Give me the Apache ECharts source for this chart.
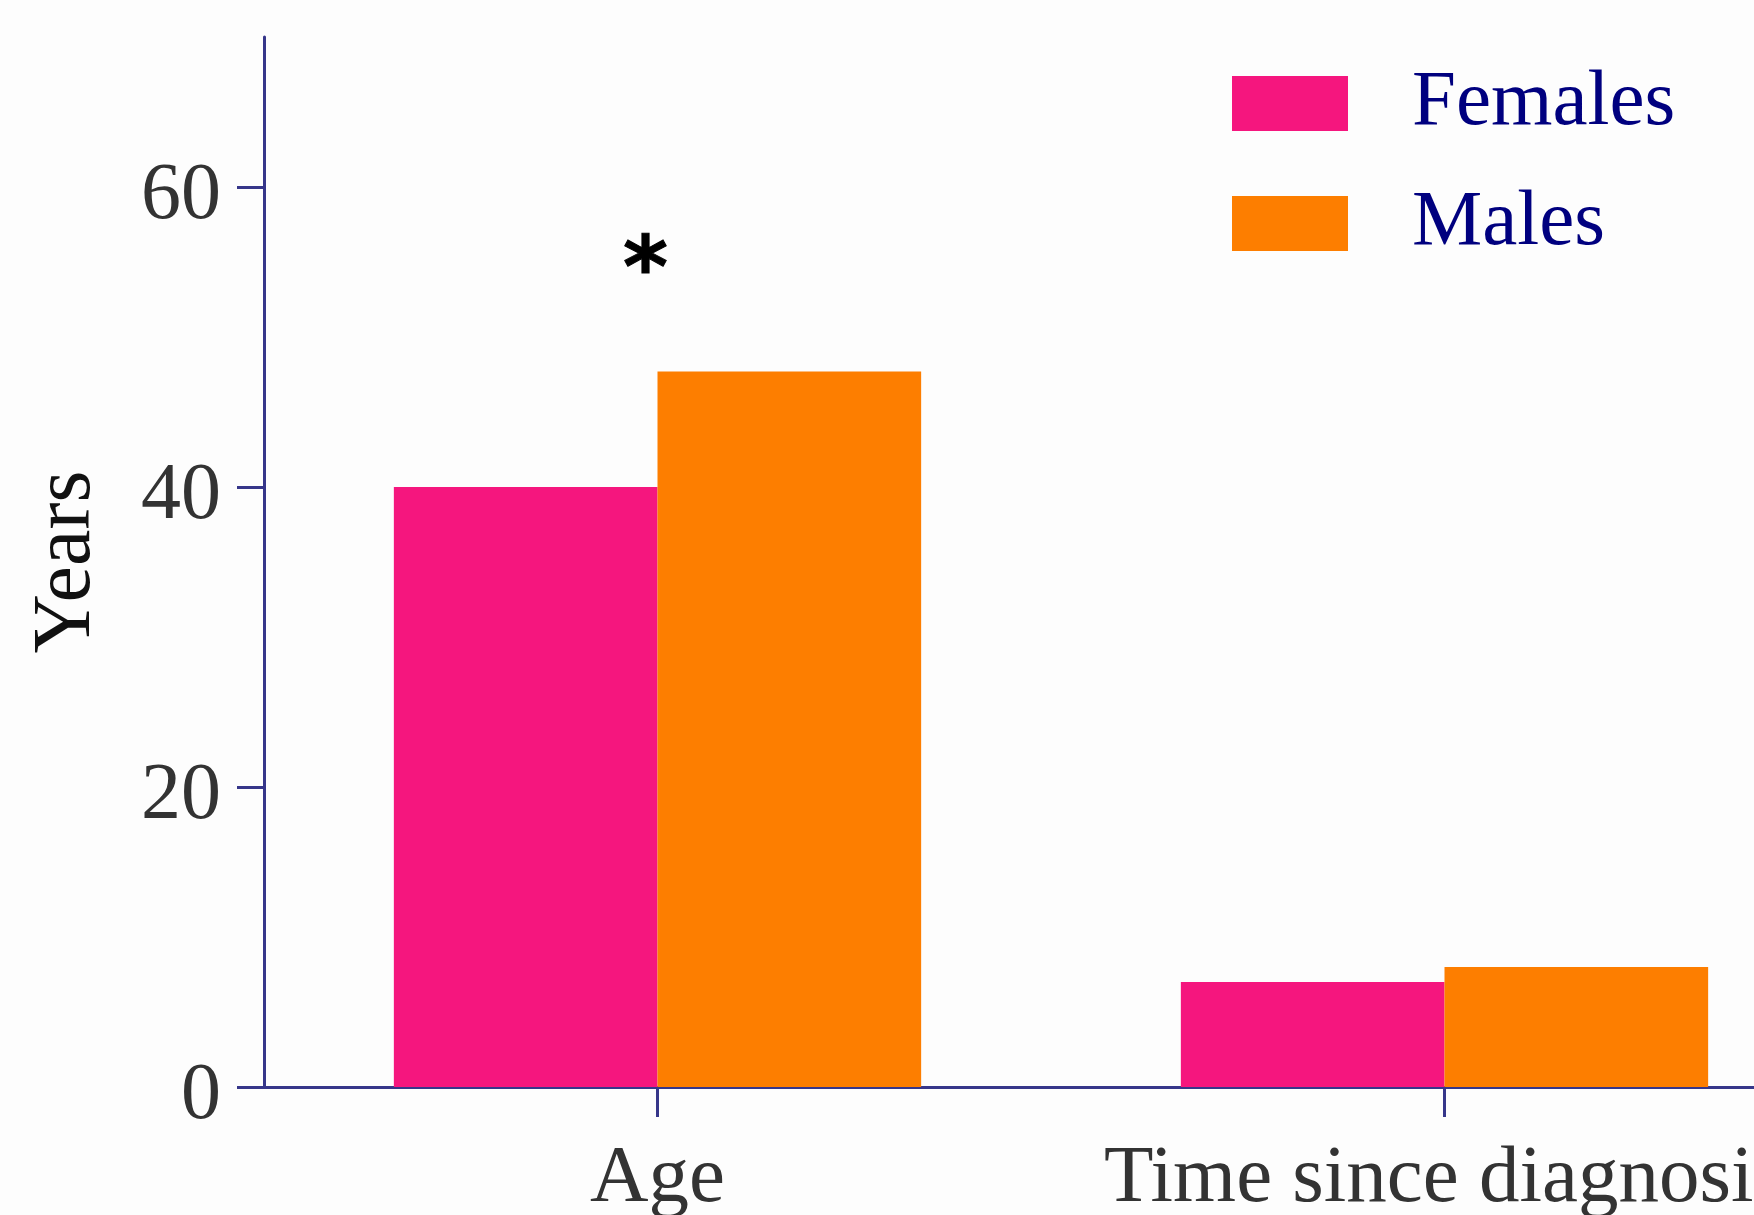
<!DOCTYPE html>
<html>
<head>
<meta charset="utf-8">
<script src="https://cdn.jsdelivr.net/npm/echarts@6/dist/echarts.min.js"></script>
<style>
  html, body { margin: 0; padding: 0; background: #fdfdfd; }
  #chart { width: 1754px; height: 1215px; }
</style>
</head>
<body>
<div id="chart"></div>
<script>
// Mean age and disease duration by sex
const categories = ['Age', 'Time since diagnosis'];
const femalesYears = [40.0, 7.0];
const malesYears = [47.7, 8.0];
const yTicks = [0, 20, 40, 60];
const seriesNames = ['Females', 'Males'];
// significance marker above the Age pair
const significance = [['Age', 55.5]];

const axisColor = '#36368a';
const serif = '"Liberation Serif", "DejaVu Serif", serif';

const chart = echarts.init(document.getElementById('chart'), null, { renderer: 'canvas' });

chart.setOption({
  backgroundColor: '#fdfdfd',
  animation: false,
  grid: {
    left: 264,
    top: 37,
    right: -84,
    bottom: 128,
    containLabel: false,
    outerBoundsMode: 'none'
  },
  legend: {
    data: seriesNames,
    orient: 'vertical',
    left: 1232,
    top: 64,
    padding: 0,
    itemWidth: 116,
    itemHeight: 55,
    itemGap: 41,
    icon: 'rect',
    textStyle: {
      fontFamily: serif,
      fontSize: 79,
      color: '#00007f',
      padding: [6, 0, 0, 59]
    }
  },
  xAxis: {
    type: 'category',
    data: categories,
    axisLine: { show: true, lineStyle: { color: axisColor, width: 3 } },
    axisTick: { show: true, alignWithLabel: true, length: 30, lineStyle: { color: axisColor, width: 3 } },
    axisLabel: {
      fontFamily: serif,
      fontSize: 81,
      color: '#333333',
      margin: 52,
      interval: 0
    },
    splitLine: { show: false }
  },
  yAxis: {
    type: 'value',
    min: 0,
    max: 70,
    interval: 20,
    name: 'Years',
    nameLocation: 'middle',
    nameRotate: 90,
    nameGap: 156,
    nameTextStyle: { fontFamily: serif, fontSize: 82, color: '#111111' },
    axisLine: { show: true, lineStyle: { color: axisColor, width: 3 } },
    axisTick: { show: true, length: 27, customValues: yTicks, lineStyle: { color: axisColor, width: 3 } },
    axisLabel: {
      fontFamily: serif,
      fontSize: 80,
      color: '#333333',
      margin: 43,
      verticalAlign: 'top',
      lineHeight: 19,
      customValues: yTicks
    },
    splitLine: { show: false }
  },
  series: [
    {
      name: seriesNames[0],
      type: 'bar',
      data: femalesYears,
      barGap: '0%',
      barCategoryGap: '33%',
      itemStyle: { color: '#f5167e' }
    },
    {
      name: seriesNames[1],
      type: 'bar',
      data: malesYears,
      barGap: '0%',
      barCategoryGap: '33%',
      itemStyle: { color: '#fd7e00' }
    },
    {
      name: 'significance',
      type: 'scatter',
      data: significance,
      symbolSize: 0,
      silent: true,
      itemStyle: { color: '#000000', opacity: 1 },
      label: {
        show: true,
        formatter: '*',
        position: [0, 0],
        align: 'center',
        verticalAlign: 'middle',
        offset: [-12, 20],
        fontFamily: '"DejaVu Sans", sans-serif',
        fontWeight: 'bold',
        fontSize: 86,
        color: '#000000',
        textBorderColor: '#000000',
        textBorderWidth: 1
      }
    }
  ]
});
</script>
</body>
</html>
